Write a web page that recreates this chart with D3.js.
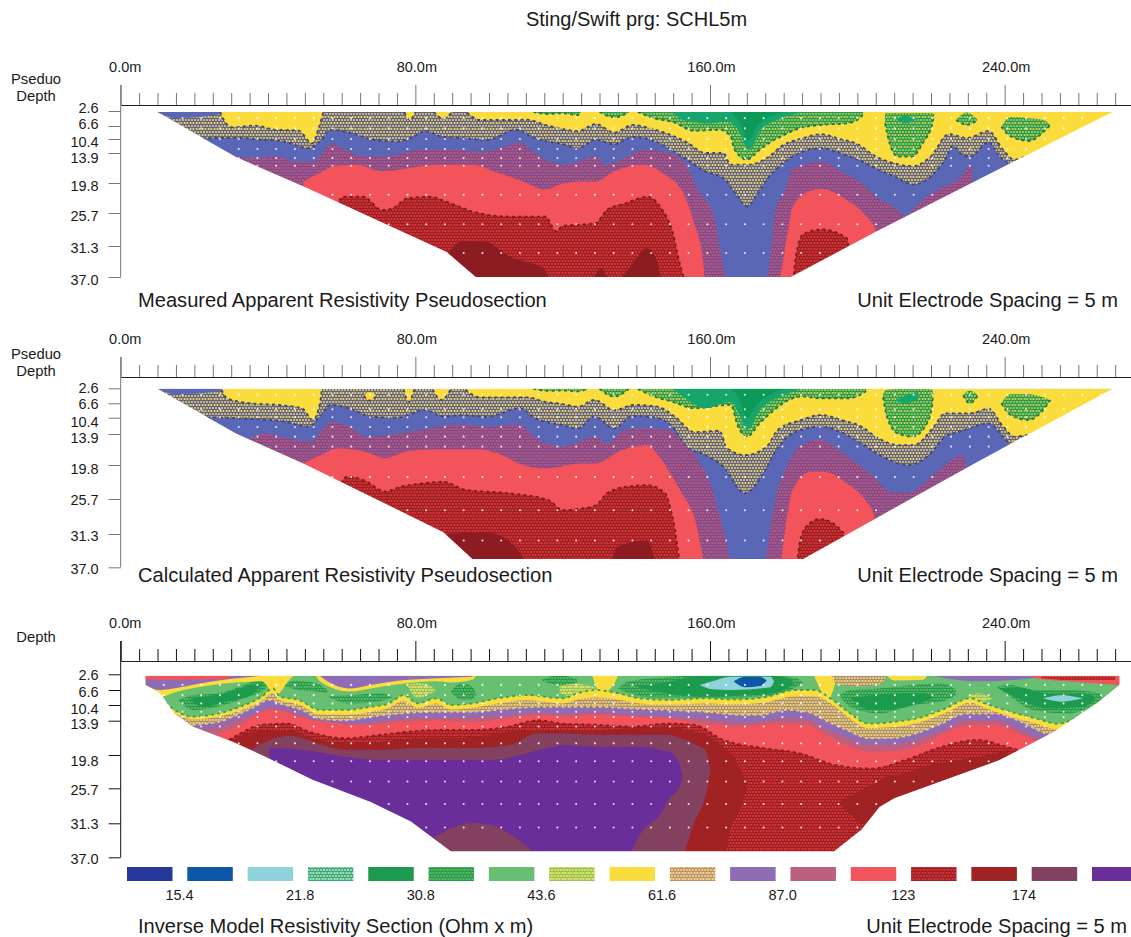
<!DOCTYPE html>
<html><head><meta charset="utf-8">
<script src="https://cdnjs.cloudflare.com/ajax/libs/d3/7.8.5/d3.min.js"></script>
<style>html,body{margin:0;padding:0;background:#fff}svg{display:block}text{font-family:"Liberation Sans",Arial,sans-serif;fill:#1a1a1a}</style>
</head><body><svg id="c" width="1131" height="937"></svg>
<script>
// ---------- shared labels ----------
const depthTicks=[2.6,6.6,10.4,13.9,19.8,25.7,31.3,37.0];
const depthLabels=["2.6","6.6","10.4","13.9","19.8","25.7","31.3","37.0"];
const majorTicks=[0,80,160,240];
const legendLabels=["15.4","21.8","30.8","43.6","61.6","87.0","123","174"];
const legendKeys=["navy","blue","cyan","hGreenPale","green","hGreen","lightGreen","hLime","yellow","hTanLegend","lilac","rose","red","hRed","dark","wine","purple"];

// ---------- panel 1: measured (m, depth top, depth bottom) or (m, depth top) ----------
const m1Outline=[[9.9,2.85],[31.3,14.7],[50,20.6],[88.5,32.4],[96.4,37],[181.9,37],[205,28.9],[240.5,16.3],[269.3,2.85]];
const m1SlateTopL=[[10,2.85,2.85],[15,2.85,4.5],[21,2.85,4.2],[27,2.85,3.3],[28,2.85,2.85]];
const m1SlateTopR=[[235,2.85,3.3],[242,2.85,3.4],[255,2.85,3.7],[269,2.85,3.6]];
const m1YellowA=[[27,2.85,2.85],[28,2.85,5],[30.4,2.85,7],[36.3,2.85,6.5],[42.3,2.85,7.7],[48.2,2.85,7.9],[52,2.85,11.5],[53.6,2.85,7.7],[55,2.85,3]];
const m1YellowB=[[77,2.85,2.85],[78.5,2.85,5],[80,2.85,2.85]];
const m1YellowC=[[85,2.85,2.85],[87.5,2.85,4.6],[90,2.85,2.85]];
const m1YellowMain=[[94,2.85,3],[97.5,2.85,5],[105.4,2.85,5],[110.3,2.85,4.9],[115.3,2.85,6.3],[119.2,2.85,7.3],[124.1,2.85,8.1],[129,2.85,6.1],[134,2.85,8.5],[139,2.85,6.3],[143.9,2.85,7.3],[148.8,2.85,9],[153.7,2.85,11.2],[158.7,2.85,13.9],[163.6,2.85,13.9],[165.6,2.85,16.2],[170.5,2.85,16.2],[175.4,2.85,14.9],[179.4,2.85,12.2],[185.3,2.85,10.1],[190.2,2.85,9],[195.2,2.85,10.4],[200.1,2.85,11.7],[205,2.85,14.6],[210,2.85,15.9],[214.9,2.85,16.5],[219.9,2.85,14.6],[224.8,2.85,9],[229.7,2.85,10.1],[235.6,2.85,8.1],[239.6,2.85,13.1],[242.6,2.85,15.2],[246.5,2.85,14.6],[272,2.85,20]];
const m1GreenThin=[[112,2.85,2.85],[116,2.85,3.4],[120,2.85,3.2],[124,2.85,3.7],[125,2.85,2.85]];
const m1GreenSmall=[[130,2.85,2.85],[134,2.85,4.3],[138,2.85,2.85]];
const m1GreenLarge=[[140.4,2.85,2.85],[144.9,2.85,4.6],[149.8,2.85,5.5],[155.7,2.85,8],[162.6,2.85,7.7],[165.6,2.85,9.6],[166.6,2.85,13],[170,2.85,15.2],[173.5,2.85,13.1],[176.4,2.85,11.2],[179.4,2.85,9.6],[184.3,2.85,7.3],[190.2,2.85,6.3],[197.2,2.85,5.9],[201.1,2.85,4.1],[201.6,2.85,2.85]];
const m1GreenCore=[[149.8,2.85,2.85],[152.7,2.85,5],[159.7,2.85,5.9],[164.6,2.85,5.4],[167.6,2.85,7.7],[170.5,2.85,13.1],[174,2.85,7.4],[178.4,2.85,4.9],[185.3,2.85,2.85]];
const m1GreenDeep=[[165.6,2.85,2.85],[167.6,2.85,5],[170.5,2.85,10.6],[173,2.85,6.3],[180.4,2.85,2.85]];
const m1IslandA=[[207.5,3.2,5.9],[209,3.1,12.2],[211,3.1,14.6],[214.9,3.1,14.6],[217.9,3.1,11.2],[220.4,3.2,5.9],[220.8,3.5,3.5]];
const m1IslandACore=[[210.5,4.7,4.7],[213,3.9,5.9],[216,4.7,4.7]];
const m1IslandB=[[226.8,5,5],[229.7,3,6.3],[232.7,5,5]];
const m1IslandC=[[239.1,6.8,6.8],[241.6,4.1,9.6],[246.5,4.5,10.9],[250.4,4.9,8.5],[252.4,6.3,6.3]];
const m1Slate=[[20.5,10.4],[26.5,10.1],[32.4,10.1],[38.3,10.6],[44.2,11],[51.1,12.7],[54.1,11],[57,7.7],[62,8.5],[67.9,10.4],[74.8,11],[78.8,10.1],[82.7,8.1],[87.6,9.8],[92.6,10.1],[99.5,10.6],[107.4,7.7],[112.3,10.1],[120,11.7],[124.1,12.7],[129,10.6],[134,11.7],[139,9.8],[143.9,10.6],[148.8,12.7],[153.7,15.2],[158.7,17.5],[163.6,18.8],[167.6,22.5],[170,24.4],[173,21.8],[175.4,19.1],[179.4,16.2],[184.3,13.9],[190.2,12.7],[195.2,13.9],[200.1,15.2],[205,16.9],[210,18.5],[215.4,20.1],[219.9,18.5],[223.8,15.2],[225.8,12.2],[228.7,14.3],[230.7,14.6],[235.6,11.2],[238.6,14.6],[241.6,16.2],[245,18],[270,30]];
const m1Mauve=[[31.4,14.6],[36.3,15],[42.2,14.6],[47.2,15.6],[52.1,15.6],[54.1,14.6],[57,11.7],[61,13.1],[65.9,14.6],[71.9,14.6],[77.8,13.6],[83.7,13.1],[90.6,13.1],[97.5,13.6],[103.4,12.7],[108.4,11.2],[112.3,13.9],[120,16.2],[123.1,15.9],[129,14.6],[131.5,16.2],[136,15.2],[141.9,13.1],[148.8,13.9],[153.2,15.9],[156.7,21.1],[161.1,26.3],[163.1,33.2],[164.6,38],[175,38],[176.9,29.7],[177.4,26.3],[180.4,21.1],[182.4,17.2],[190.2,15.6],[196.2,17.8],[201.1,19.8],[205,22.5],[211,25.1],[213,26.3],[214.9,25.1],[221.8,21.1],[227.8,18.8],[230.7,16.5],[231.2,17],[231.7,30],[270,30]];
const m1Red=[[49.6,19.5],[53.1,18.2],[58,16.5],[64,16.2],[70.9,17.5],[77.8,16.9],[85.7,16.2],[95.5,16.2],[102.4,17.8],[109.3,19.5],[115.3,21.1],[119.2,20.1],[124.1,19.5],[129,19.5],[134,17.5],[141.9,16.2],[147.8,18.2],[152.8,21.8],[155.7,27.4],[158.2,34.5],[158.7,38],[178.4,38],[180.9,29.7],[182.4,24.5],[187.3,21.3],[190.2,21],[197.2,23.2],[202.1,26],[205,28.7],[206,38]];
const m1RedHatch=[[55,34],[60.5,22.5],[65.9,22.5],[70.9,25.1],[73.8,24.8],[77.8,22.8],[83.7,22.5],[89.6,23.8],[95.5,25.4],[105.4,26.3],[115.3,26.3],[118.2,28.8],[120,27.9],[124.1,27.7],[129,27.4],[132,25.1],[137,23.8],[142.9,22.5],[146.8,24.8],[149.8,28.8],[151.8,34.5],[153.7,38],[182.4,38],[183.3,33.2],[185.3,29.3],[190.2,28.5],[197.2,30],[198.2,38]];
const m1Dark=[[85,38],[88.6,33],[92.6,30.5],[98.5,30.5],[105.4,33.2],[115.3,35.7],[117.2,38],[127.1,38],[130.5,35.4],[133,38],[134,38],[138,35.4],[142.9,31.7],[145.8,34.5],[146.8,38]];
const m1DotRows=[4.5,7.3,10.4,12.9,14.9,16.4,22.1,27.6,32.6];

// ---------- panel 2: calculated ----------
const m2Outline=[[9.9,2.7],[31.3,13.8],[49.6,19.5],[87.6,31],[95.5,35.6],[185.3,35.6],[205,28.8],[231.8,19.5],[269.3,2.7]];
const m2SlateTopL=[[10,2.7,2.7],[15,2.7,4.2],[21,2.7,4],[27,2.7,3.2],[28,2.7,2.7]];
const m2SlateTopR=[[235,2.7,3.4],[242,2.7,3.4],[255,2.7,3.6],[269,2.7,3.5]];
const m2YellowA=[[27.4,2.7,3],[28.9,2.7,5.3],[35.3,2.7,6.6],[42.2,2.7,7],[49.2,2.7,7.9],[52.1,2.7,10.9],[54.1,2.7,6.6],[54.6,2.7,3]];
const m2YellowB=[[66,4.6,4.6],[67.7,3.6,5.9],[69.4,4.6,4.6]];
const m2YellowC=[[76.8,2.7,2.9],[78.2,2.7,6.2],[79.7,2.7,2.9]];
const m2YellowD=[[84.7,2.7,2.9],[87,2.7,5.7],[89.6,2.7,2.9]];
const m2YellowMain=[[93.6,2.7,3],[97.5,2.7,5],[105.4,2.7,5],[110.3,2.7,5],[115.3,2.7,6.2],[120,2.7,6.8],[124.1,2.7,7.5],[128.6,2.7,5.7],[134,2.7,8.4],[139.4,2.7,7],[145.8,2.7,7.5],[150.8,2.7,10.4],[155.7,2.7,13.5],[162.6,2.7,13.2],[164.6,2.7,16.6],[169.5,2.7,17.9],[175.4,2.7,16.3],[178.4,2.7,13],[184.3,2.7,11],[190.2,2.7,9.7],[196.2,2.7,11],[201.1,2.7,12.3],[205,2.7,14.4],[211,2.7,16],[215.4,2.7,16],[220.8,2.7,12.3],[223.8,2.7,9.25],[230.7,2.7,9.25],[235.6,2.7,8],[239.6,2.7,12.3],[242.6,2.7,14.4],[246.5,2.7,14.1],[272,2.7,20]];
const m2GreenThin=[[112,2.7,2.7],[116,2.7,3.3],[120,2.7,3.2],[124,2.7,3.4],[127,2.7,2.7]];
const m2GreenSmall=[[130,2.7,2.7],[134,2.7,4.8],[138,2.7,2.7]];
const m2GreenLarge=[[140.4,2.7,2.8],[144.9,2.7,4.8],[149.8,2.7,6.2],[155.7,2.7,7.9],[165.6,2.7,7],[167.6,2.7,12.3],[170,2.7,14.4],[173.5,2.7,11.6],[177.4,2.7,8.4],[182.4,2.7,5.3],[185.3,2.7,4.8],[190.2,2.7,5.3],[197.2,2.7,5.3],[202.1,2.7,3.5],[202.6,2.7,2.8]];
const m2GreenCore=[[149.8,2.7,2.7],[152.7,2.7,4.8],[158.7,2.7,7.9],[165.6,2.7,6.2],[167.6,2.7,8.9],[170,2.7,13],[173.5,2.7,8.4],[179.4,2.7,4.8],[184.8,2.7,2.7]];
const m2GreenDeep=[[165.6,2.7,2.7],[167.6,2.7,4.8],[170,2.7,10.4],[173,2.7,6.6],[180.9,2.7,2.7]];
const m2IslandA=[[207,4,5],[208,3,10],[211,2.8,13.8],[215,2.8,14.4],[218.9,2.8,11.6],[220.4,3,6.6],[220.5,4,4]];
const m2IslandACore=[[210.5,5.7,6],[213,4.6,6.6],[216.5,3.5,5.5]];
const m2IslandB=[[228.7,4.5,4.5],[230.5,3.2,6.6],[232.7,4.5,4.5]];
const m2IslandC=[[239.1,6.6,6.6],[241.6,4.2,9.7],[246.5,4.2,10.9],[250.4,5,8.4],[252.4,5.7,5.7]];
const m2Slate=[[23.5,10.3],[28.4,10.4],[36.3,10.7],[44.2,11.2],[51.1,12.3],[54.1,10],[57,7],[62,7.9],[67.9,10.1],[74.8,10.4],[82.7,8.4],[87.6,10.1],[92.6,9.7],[99.5,10.1],[108.4,7.9],[112.3,10.4],[120,12],[124.1,12.7],[128.6,10.1],[134,12.7],[139,9.9],[144.9,10.3],[149.8,12.3],[153.7,16.3],[158.7,17.9],[163.6,20.1],[169.5,24.7],[174.5,21.2],[177.4,17.6],[182.4,13.8],[190.2,12.3],[195.2,13.4],[201.1,15.7],[206,17.9],[213.9,19.8],[219.9,17.6],[223.8,14.4],[227.8,13.4],[235.6,11.6],[239.6,14.4],[241.6,16],[245.5,17.6],[270,30]];
const m2Mauve=[[34.4,15],[39.3,13.8],[45.2,14.7],[52.1,15.3],[54.6,13],[57.5,11.3],[62,12.3],[66.9,14.4],[75.8,13.8],[83.7,12.7],[91.6,11.9],[99.5,12.3],[108.4,11.9],[112.3,14.4],[120,16.3],[123.1,15.7],[129,14.4],[132,15.7],[137,13],[141.9,12.7],[148.8,13],[152.8,15.7],[156.7,18.8],[160.6,24.1],[163.6,30.7],[166.6,38],[174,38],[176.9,28.5],[177.9,25.3],[180.4,20.7],[184.3,16.3],[189.8,15],[196.2,17.6],[203,21],[210,24.6],[213.9,24.6],[221.8,20.9],[228.7,17.9],[231.7,30],[270,30]];
const m2Red=[[49.6,19.5],[54.1,18],[59,16.6],[65.9,17.2],[71.9,18.5],[77.8,17.2],[85.7,16.8],[97.5,16.8],[103.4,17.9],[109.3,19.8],[115.3,20.4],[119.2,20.1],[124.1,19.5],[129,19.5],[136,17],[142.9,16],[146.8,18.8],[151.8,24.1],[155.7,28.5],[159.7,38],[178.4,38],[180.9,28.5],[182.4,24.1],[187.3,21],[191.2,21],[197.2,23],[202.1,25.8],[204.6,28.5],[205.5,38]];
const m2RedHatch=[[55,35],[61.5,21.8],[65.9,22.4],[71.9,24.4],[75.8,23.6],[81.7,23],[87.6,22.7],[93.6,24.1],[105.4,24.7],[116.3,25.9],[120,27.5],[124.1,27.3],[129,26.7],[132,24.7],[137,23.6],[142.9,23.3],[147.8,24.7],[149.8,28.5],[152.8,38],[183.3,38],[184.3,32.9],[186.3,30],[189.8,28.9],[196.2,31.1],[197.2,38]];
const m2Dark=[[86,38],[88.6,31.3],[99.5,31],[107.4,33.7],[112.3,38],[131.5,38],[135,33.5],[142.9,32.4],[145.8,38]];
const m2DotRows=[4.3,8.2,10.3,12.4,14.4,16.3,21.9,27.5,32.4];

// ---------- panel 3: inverse model ----------
const m3Outline=[[6.7,3],[6.7,5.3],[10.7,7.4],[14.6,12.3],[19.5,14.9],[30.4,17.5],[39.3,20.1],[52.1,24.2],[67.9,27.9],[78.8,31],[89.6,36],[193.7,36],[201.1,32.4],[206,28.7],[210,27.3],[238.6,20.7],[253.4,15.8],[265.2,9.9],[271.2,5.3],[271.2,3]];
const m3GreenHatchA=[[15.6,9.1,9.1],[19.5,7.9,11.5],[26.5,7.4,10.8],[32.4,5.75,9.1],[39.3,3.6,6.2],[41.3,4.4,4.4]];
const m3GreenSolidA=[[18.6,9,9],[22.5,8.3,10.8],[28.4,7.4,9.55],[35.3,5.3,7.9],[38.3,4.9,5.3]];
const m3GreenHatchB=[[44.2,5.6,5.6],[47.2,4.2,6.4],[53.1,4.9,7],[56.1,6.6,7.4]];
const m3GreenHatchC=[[56.1,8.1,8.1],[62,7.9,10],[70.9,7.4,9.3],[73.8,8.5,8.5]];
const m3LimeA=[[77.8,5.3,5.3],[80.7,4.9,8.7],[84,5.5,7.5],[85.7,7,7]];
const m3GreenHatchD=[[89.6,7,7],[92.6,4.9,9.1],[95.5,5.75,9.1],[96.5,7.4,7.4]];
const m3TopHatchE=[[114,4.2,4.2],[118,3,5.2],[120,3,5.3],[124,4,4.6]];
const m3LimeB=[[119.2,5.5,7.5],[124,5,8.5],[129,6,7.5]];
const m3GreenHatchF=[[135,6.2,6.2],[138,4.4,7.4],[144.9,3.6,8.5],[155.7,3,8.5],[166.6,3,8.5],[176.4,3,7.9],[183.3,3.6,5.9],[185.3,4.7,4.7]];
const m3GreenSolidF=[[139.9,5.75,5.75],[147.8,4.7,7.4],[157.7,3,8.3],[177.4,3,7.4],[182.4,4,5.3]];
const m3Cyan=[[157.2,5.3,5.3],[160.6,4.4,6.4],[165.6,3.2,6.6],[176.4,3.2,5.9],[177.4,4.4,4.4]];
const m3Blue=[[166.4,4.4,4.4],[169.5,3.2,5.9],[173.5,3.2,5.6],[175.4,4.2,4.2]];
const m3GreenHatchG=[[195.2,7.9,7.9],[198.1,6.6,10.8],[206,6.2,12.3],[214.9,5.3,10.4],[222.8,4.9,9.55],[226.8,6.6,7.9]];
const m3GreenSolidG=[[198.1,8.7,8.7],[204,7.9,11.5],[211,7.4,11.2],[217.9,7.4,9.55],[220.8,8.5,8.5]];
const m3LimeC=[[229.7,8.7,8.7],[232.7,7.4,10],[236.6,8.7,8.7]];
const m3GreenHatchH=[[237.6,5.75,5.75],[241.6,5.3,8.3],[247.5,6.6,11.5],[257.4,6.6,12.3],[266.2,7.4,9.1]];
const m3GreenSolidH=[[238.6,6.2,6.2],[243.6,5.9,8.7],[251.5,7.4,11.2],[261.3,7.4,10.8],[264.3,8.3,9.1]];
const m3CyanH=[[250.4,8.7,8.7],[255.4,7.9,9.55],[261.3,8.7,8.7]];
const m3YellowL=[[6.7,3,6.2],[10.7,3,8.3],[15.4,3,7],[23.5,3,5.5],[31.4,3,4.7],[38.3,3,4.4],[42,3,8],[46,3,3.8],[47,3,3]];
const m3YellowM=[[53,3,3],[54.1,3,4.4],[62,3,7],[67.9,3,6.2],[75.8,3,5.1],[85.7,3,4.4],[89.6,3,4.7],[95.5,3,4],[96.5,3,3]];
const m3YellowN=[[128,3,3],[130.5,3,7.5],[134,3,5],[135,3,3]];
const m3YellowO=[[188.3,3,3],[190.2,3,7],[192.2,3,9],[194.2,3,4.5],[195,3,3]];
const m3YellowP=[[208,3,3],[210,3,4.2],[217.9,3,4],[218.9,3,3]];
const m3TanTop=[[193.2,3,3],[194.2,3,5],[200.1,3,5.7],[206,3,5.2],[208,3,3]];
const m3LilacL=[[6.7,3,5.3],[10.7,3,6.6],[15.4,3,6],[23.5,3,4.6],[31.4,3,3.6],[38.3,3,3]];
const m3LilacM=[[54.1,3,3],[56.1,3,4.4],[62,3,6.2],[67.9,3,5.3],[75.8,3,4.2],[85.7,3,3.6],[95.5,3,3.2]];
const m3LilacR=[[220.8,3,3],[224,3,3.6],[232.7,3,4.4],[247.5,3,3.6],[249,3,3]];
const m3RedL=[[6.7,3,3.9],[15.4,3,4],[29,3,3.8],[29.5,3,3]];
const m3RedR=[[247,3,3],[248.5,3,3.6],[257.4,3,4.4],[271.2,3,5.3]];
const m3DarkR=[[250,3.2,3.6],[257.4,3.2,4],[270,3.2,4]];
const m3Yellow=[[6,8],[10.7,8.7],[14.6,11.5],[19.5,13],[26.5,12.3],[32.4,10.8],[38.3,8.3],[41.3,6.2],[43.2,8.3],[48.2,9.1],[54.1,11.5],[61,11.5],[67.9,10.8],[72.8,10],[76.8,7.9],[80.7,10],[85.7,8.7],[89.6,10.4],[95.5,10],[102.4,8.7],[110.3,7.9],[120,8.7],[124.1,7.4],[129,6.6],[135,7.4],[140.9,8.7],[148.8,9.1],[158.7,8.7],[166.6,9],[174.5,8.5],[183.3,6.6],[188.3,6.6],[193.2,9.1],[198.1,12.3],[203,14.4],[210,14.1],[217.9,13],[223.8,11.2],[230.7,8.7],[234.6,10],[241.6,11.9],[248.5,13.4],[254.4,14.4],[262.3,12.3],[266.2,11.5],[271.2,5.8]];
const m3Tan=[[10.7,9.5],[14.6,12.2],[19.5,13.6],[26.5,13],[32.4,11.6],[38.3,9.3],[41.3,7.5],[43.2,9.2],[48.2,10.2],[54.1,12.5],[61,12.6],[67.9,11.9],[72.8,11],[76.8,9.3],[80.7,11],[85.7,10],[89.6,11.4],[95.5,11],[102.4,10],[110.3,9.2],[120,10],[124.1,9],[129,8.5],[135,9],[140.9,10],[148.8,10.3],[158.7,10],[166.6,10.2],[174.5,9.8],[183.3,8.2],[188.3,8.2],[193.2,10.3],[198.1,13.5],[203,15.2],[210,15],[217.9,14],[223.8,12.2],[230.7,9.8],[234.6,11],[241.6,13],[248.5,14.4],[254.4,15.4],[270,15.4]];
const m3Lilac=[[19.5,14.6],[26.5,14.1],[32.4,12.3],[36.3,10.8],[40.3,9.1],[43.2,10],[49.2,11.5],[54.1,13.4],[61,13.8],[67.9,13],[75.8,12.3],[85.7,11.9],[95.5,11.9],[105.4,11.2],[115.3,10.8],[120,10.8],[129,10.8],[139,11.2],[148.8,11.5],[158.7,11.9],[168.5,12.6],[173.5,12.6],[180.4,11.5],[186.3,11.9],[192.2,14.1],[197.2,15.5],[203,16.9],[209,16.9],[215.9,16.1],[222.8,14.4],[229.7,12.3],[237.6,12.3],[244.5,14.1],[251.4,16.1],[254.4,16.3],[270,16.3]];
const m3Rose=[[19.5,15.5],[26.5,15],[32.4,13.5],[36.3,12.5],[40.3,11],[43.2,11.2],[49.2,12.6],[54.1,14.2],[61,14.6],[67.9,14.2],[75.8,13.5],[85.7,13.2],[95.5,13.2],[105.4,12.6],[115.3,12.2],[120,12.4],[129,12],[139,12.6],[148.8,13],[158.7,13.5],[168.5,14.2],[173.5,14],[180.4,13.4],[186.3,13.5],[192.2,15.5],[197.2,16.8],[203,18],[209,18],[215.9,17.2],[222.8,15.6],[229.7,13.8],[237.6,13.8],[244.5,15.5],[251.4,17.2],[270,17.4]];
const m3Red=[[26.5,16.1],[32.4,14.6],[38.3,11.9],[42.2,11.5],[48.2,13],[56.1,14.1],[65.9,14.6],[75.8,14.1],[85.7,13.8],[95.5,14.1],[105.4,13.4],[113.3,12.6],[120,13],[129,12.6],[139,13],[148.8,13.4],[158.7,14.4],[168.5,14.9],[178.4,14.4],[186.3,14.6],[192.2,16.6],[197.2,18.1],[203,19.2],[208,19.2],[215.9,18.4],[222.8,16.3],[230.7,14.6],[237.6,14.6],[244.5,16.3],[250.4,17.5],[270,17.5]];
const m3RedHatch=[[29.4,17.2],[32.4,16.1],[38.3,14.6],[45.2,14.4],[51.1,15.8],[61,16.9],[70.9,16.3],[77.8,15.8],[85.7,15.5],[95.5,15.5],[105.4,14.9],[113.3,13.8],[120,14.4],[129,14.6],[139,14.9],[148.8,14.4],[155.7,14.6],[163.6,17.2],[174.5,18.6],[184.3,19.5],[194.2,21.6],[204,22.2],[213,20.7],[222.8,18.4],[232.7,17.2],[240.6,18.4],[270,25]];
const m3DarkMain=[[29.4,17.5,38],[36.3,15.8,38],[45.2,15.5,38],[52.1,16.9,38],[61,17.8,38],[70.9,17.5,38],[80.7,16.9,38],[90.6,16.9,38],[100.5,16.3,38],[110.3,15.5,38],[120,15.5,38],[129,15.5,38],[139,15.2,38],[148.8,14.9,38],[155.7,15.8,38],[160.6,16.9,38],[163.6,18.5,38],[165.6,19.5,32],[167.6,21.5,29.7],[168.5,22.5,28.5],[170,25.4,25.4]];
const m3DarkStrip=[[194.7,28,28],[201.1,26,31.3],[203,25.4,32.1],[206,24.5,38],[208,23.6,38],[213,23,38],[217.9,21.9,38],[227.8,20.7,38],[237.6,19.5,38],[241,18.9,38]];
const m3Wine=[[35.3,18.9,38],[39.3,17.5,38],[46.2,16.5,38],[52.1,17.5,38],[61,18.9,38],[70.9,18.9,38],[80.7,18.6,38],[95.5,18.6,38],[105.4,18.1,38],[113.3,16.1,38],[120,16.1,38],[129,16.3,38],[148.8,16.3,38],[151.8,16.9,38],[153.7,17.2,35],[155.7,17.9,31.3],[158.7,18.9,27.1],[160.2,22.5,22.5]];
const m3Purple=[[40.3,18.6,38],[49.2,18.9,38],[61,20.1,38],[70.9,20.7,38],[85.7,20.7,38],[100.5,20.7,38],[110.3,19.5,38],[117.2,18.4,38],[120,18.1,38],[129,18.4,38],[136,18.4,38],[141.9,18.4,32.4],[146.8,19,29.7],[148.8,19.2,27.5],[151.8,21.5,25.4],[152.5,23.5,23.5]];
const m3Mound=[[85.2,33.6,38],[90.6,31.9,38],[95.5,31.3,38],[100.5,31.6,38],[105.4,33,38],[115.3,38,38]];
const m3DotRows=[5.3,7.9,10,11.9,13.1,14.9,17.8,20.9,24.5,28.2,32];

// ---------- drawing ----------
const svg=d3.select("#c");
const defs=svg.append("defs");
const solid={navy:"#25389a",blue:"#0a57a8",cyan:"#8fd2da",green:"#1b9a4e",lightGreen:"#68bf72",yellow:"#fbdc3e",lilac:"#8f6cb6",rose:"#bd6080",red:"#f3525a",dark:"#a02020",wine:"#84405f",purple:"#692f9a",slate:"#5a66b6",deepRed:"#8c1e24",seaGreen:"#16a56c",seaDeep:"#0c9a58"};
const hatchDefs={hGreenPale:["#a6e0bd","#2f9f6e",1.15],hGreen:["#62ba68","#1f9a4a",1.3],hLime:["#e3e46c","#8cbf50",1.15],hTanLegend:["#f0d28e","#b48a62",1.15],hTan:["#e8d478","#5f5f80",1.45],hMauve:["#bf5a76","#7c4a90",1.45],hRed:["#d9393c","#9c1e22",1.5],hYG:["#d8dc58","#2a9a50",1.6],hTan3:["#f0d27c","#a48868",1.2]};
Object.entries(hatchDefs).forEach(([id,[bg,ln,w]])=>{
  const p=defs.append("pattern").attr("id",id).attr("patternUnits","userSpaceOnUse").attr("width",6).attr("height",6);
  p.append("rect").attr("width",6).attr("height",6).attr("fill",bg);
  p.append("path").attr("d","M0,2.2L1.5,0.8L3,2.2L4.5,0.8L6,2.2M0,3.8L1.5,5.2L3,3.8L4.5,5.2L6,3.8").attr("fill","none").attr("stroke",ln).attr("stroke-width",w);
});
defs.append("filter").attr("id","soft").append("feGaussianBlur").attr("stdDeviation",0.45);
const fillOf=k=>solid[k]||`url(#${k})`;

const x=d3.scaleLinear().domain([0,274.3]).range([120.7,1131]);
const BOTTOM=38;

function drawPanel(cfg){
  const y=d3.scaleLinear().domain(depthTicks).range(cfg.tickY);
  const g=svg.append("g");
  const cid="clip"+cfg.id;
  defs.append("clipPath").attr("id",cid).append("path").attr("d",d3.line().x(d=>x(d[0])).y(d=>y(d[1])).curve(d3.curveLinear)(cfg.outline)+"Z");
  const body=g.append("g").attr("clip-path",`url(#${cid})`).append("g").attr("filter","url(#soft)");
  body.append("path").attr("d",d3.line().x(d=>x(d[0])).y(d=>y(d[1]))(cfg.outline)+"Z").attr("fill",fillOf(cfg.base));
  const curve=d3.curveMonotoneX;
  cfg.layers.forEach(l=>{
    const rows=l.data.map(d=>d.length===3?d:[d[0],d[1],BOTTOM]);
    body.append("path").datum(rows)
      .attr("d",d3.area().x(d=>x(d[0])).y0(d=>y(d[1])).y1(d=>y(d[2])).curve(curve))
      .attr("fill",fillOf(l.fill));
    if(l.edge){
      const side=l.side==="bottom"?2:1;
      body.append("path").datum(rows)
        .attr("d",d3.line().x(d=>x(d[0])).y(d=>y(d[side])).curve(curve))
        .attr("fill","none").attr("stroke",l.edge).attr("stroke-width",1.8).attr("stroke-dasharray","3 3.2");
    }
  });
  // measurement dots
  const poly=cfg.outline.map(d=>[x(d[0]),y(d[1])]);
  const pts=[];
  cfg.dotRows.forEach(r=>d3.range(1.5,275,5.09).forEach(m=>{if(d3.polygonContains(poly,[x(m),y(r)]))pts.push([m,r]);}));
  g.append("g").selectAll("circle").data(pts).join("circle")
    .attr("cx",d=>x(d[0])).attr("cy",d=>y(d[1])).attr("r",1.05).attr("fill","#fff").attr("opacity",.85);

  // x axis
  const ay=cfg.axisY;
  const minor=d3.axisTop(x).tickValues(d3.range(5,275,5).filter(v=>!majorTicks.includes(v))).tickSize(12).tickFormat("").tickSizeOuter(0);
  const gm=g.append("g").attr("transform",`translate(0,${ay})`).call(minor);
  gm.select(".domain").remove();
  gm.selectAll("line").attr("stroke",cfg.tickColor).attr("stroke-width",1);
  const major=d3.axisTop(x).tickValues(majorTicks).tickSize(20).tickPadding(13).tickFormat(d=>d.toFixed(1)+"m").tickSizeOuter(0);
  const gx=g.append("g").attr("transform",`translate(0,${ay})`).call(major);
  gx.select(".domain").attr("stroke","#222").attr("stroke-width",1.2);
  gx.selectAll("line").attr("stroke",cfg.tickColor).attr("stroke-width",1);
  gx.selectAll("text").attr("font-size",14.5).attr("fill","#1a1a1a").attr("font-family","Liberation Sans").attr("dx",(d)=>d===0?4:1);
  // y axis
  const ya=d3.axisLeft(y).tickValues(depthTicks).tickSize(12).tickFormat((d,i)=>depthLabels[i]).tickPadding(10).tickSizeOuter(0);
  const gy=g.append("g").attr("transform",`translate(${x(0)},0)`).call(ya);
  gy.select(".domain").remove();
  gy.selectAll("line").attr("stroke",cfg.tickColor);
  gy.selectAll("text").attr("font-size",14.5).attr("fill","#1a1a1a").attr("font-family","Liberation Sans")
    .attr("y",(d,i)=>cfg.labelY[i]-y(d)).attr("dy","0.35em");
  g.append("line").attr("x1",x(0)).attr("x2",x(0)).attr("y1",ay-20).attr("y2",y(37)).attr("stroke",cfg.tickColor);
}

const lay12=(s)=>[
  {data:s.slateL,fill:"slate"},{data:s.slateR,fill:"slate"},
  ...s.yellows.map(d=>({data:d,fill:"yellow",edge:"#44456e",side:"bottom"})),
  ...s.greens.map(d=>({data:d,fill:"hYG",edge:"#22743e",side:"bottom"})),
  {data:s.core,fill:"seaGreen"},{data:s.deep,fill:"seaDeep"},{data:s.islandCore,fill:"seaGreen"},
  {data:s.slate,fill:"slate",edge:"#44456e"},
  {data:s.mauve,fill:"hMauve"},
  {data:s.red,fill:"red"},
  {data:s.redHatch,fill:"hRed",edge:"#7c1a1e"},
  {data:s.dark,fill:"deepRed"}
];

drawPanel({id:1,tickY:[111,126,139,153,183,213,246,277],labelY:[107,123,141,157,185,215,247,279],axisY:105,tickColor:"#777",outline:m1Outline,base:"hTan",dotRows:m1DotRows,
 layers:lay12({slateL:m1SlateTopL,slateR:m1SlateTopR,yellows:[m1YellowA,m1YellowB,m1YellowC,m1YellowMain],greens:[m1GreenThin,m1GreenSmall,m1GreenLarge,m1IslandA,m1IslandB,m1IslandC],core:m1GreenCore,deep:m1GreenDeep,islandCore:m1IslandACore,slate:m1Slate,mauve:m1Mauve,red:m1Red,redHatch:m1RedHatch,dark:m1Dark})});
drawPanel({id:2,tickY:[388.3,403.3,417.7,434,465,499,534,567.3],labelY:[387,403,421,437,468,499,535,568],axisY:377,tickColor:"#777",outline:m2Outline,base:"hTan",dotRows:m2DotRows,
 layers:lay12({slateL:m2SlateTopL,slateR:m2SlateTopR,yellows:[m2YellowA,m2YellowB,m2YellowC,m2YellowD,m2YellowMain],greens:[m2GreenThin,m2GreenSmall,m2GreenLarge,m2IslandA,m2IslandB,m2IslandC],core:m2GreenCore,deep:m2GreenDeep,islandCore:m2IslandACore,slate:m2Slate,mauve:m2Mauve,red:m2Red,redHatch:m2RedHatch,dark:m2Dark})});
drawPanel({id:3,tickY:[674.3,690,705,720.7,755,788.3,823.3,857.3],labelY:[674,691,708,723,760,789,823,858],axisY:661,tickColor:"#111",outline:m3Outline,base:"lightGreen",dotRows:m3DotRows,
 layers:[
  ...[m3GreenHatchA,m3GreenHatchB,m3GreenHatchC,m3GreenHatchD,m3TopHatchE,m3GreenHatchF,m3GreenHatchG,m3GreenHatchH].map(d=>({data:d,fill:"hGreen"})),
  ...[m3GreenSolidA,m3GreenSolidF,m3GreenSolidG,m3GreenSolidH].map(d=>({data:d,fill:"green"})),
  ...[m3LimeA,m3LimeB,m3LimeC].map(d=>({data:d,fill:"hLime"})),
  {data:m3Cyan,fill:"cyan"},{data:m3CyanH,fill:"cyan"},{data:m3Blue,fill:"blue"},
  ...[m3YellowL,m3YellowM,m3YellowN,m3YellowO,m3YellowP].map(d=>({data:d,fill:"yellow"})),
  {data:m3TanTop,fill:"hTan3"},
  ...[m3LilacL,m3LilacM,m3LilacR].map(d=>({data:d,fill:"lilac"})),
  {data:m3RedL,fill:"red"},{data:m3RedR,fill:"red"},{data:m3DarkR,fill:"hRed"},
  {data:m3Yellow,fill:"yellow",edge:"#3f9f50"},{data:m3Tan,fill:"hTan3"},{data:m3Lilac,fill:"lilac",edge:"#e8c878"},{data:m3Rose,fill:"rose"},{data:m3Red,fill:"red"},
  {data:m3RedHatch,fill:"hRed",edge:"#8a1c20"},
  {data:m3DarkMain,fill:"dark"},{data:m3DarkStrip,fill:"dark"},
  {data:m3Wine,fill:"wine"},{data:m3Purple,fill:"purple"},{data:m3Mound,fill:"wine"}
 ]});

// legend
const lx=d3.scaleLinear().domain([0,16]).range([127,1092]);
const leg=svg.append("g");
leg.selectAll("rect").data(legendKeys).join("rect")
  .attr("x",(d,i)=>lx(i)).attr("y",867).attr("width",45.5).attr("height",14)
  .attr("fill",fillOf).attr("filter","url(#soft)");
leg.selectAll("text").data(legendLabels).join("text")
  .attr("x",(d,i)=>lx(i*2)+52.5).attr("y",895).attr("dy","0.35em").attr("text-anchor","middle").attr("font-size",14.5).text(d=>d);

// text
const T=(s,px,py,size,anchor)=>svg.append("text").attr("x",px).attr("y",py).attr("dy","0.35em").attr("font-size",size).attr("text-anchor",anchor||"start").text(s);
T("Sting/Swift prg: SCHL5m",636.5,19,20,"middle");
T("Pseduo",36,79,14.8,"middle");T("Depth",36,96,14.8,"middle");
T("Pseduo",36,354,14.8,"middle");T("Depth",36,371,14.8,"middle");
T("Depth",36,637,14.8,"middle");
T("Measured Apparent Resistivity Pseudosection",138,300,20.1);
T("Calculated Apparent Resistivity Pseudosection",138,575,20.1);
T("Inverse Model Resistivity Section (Ohm x m)",138,926,20.1);
T("Unit Electrode Spacing = 5 m",1118,300,20.1,"end");
T("Unit Electrode Spacing = 5 m",1118,575,20.1,"end");
T("Unit Electrode Spacing = 5 m",1127,926,20.1,"end");
</script></body></html>
